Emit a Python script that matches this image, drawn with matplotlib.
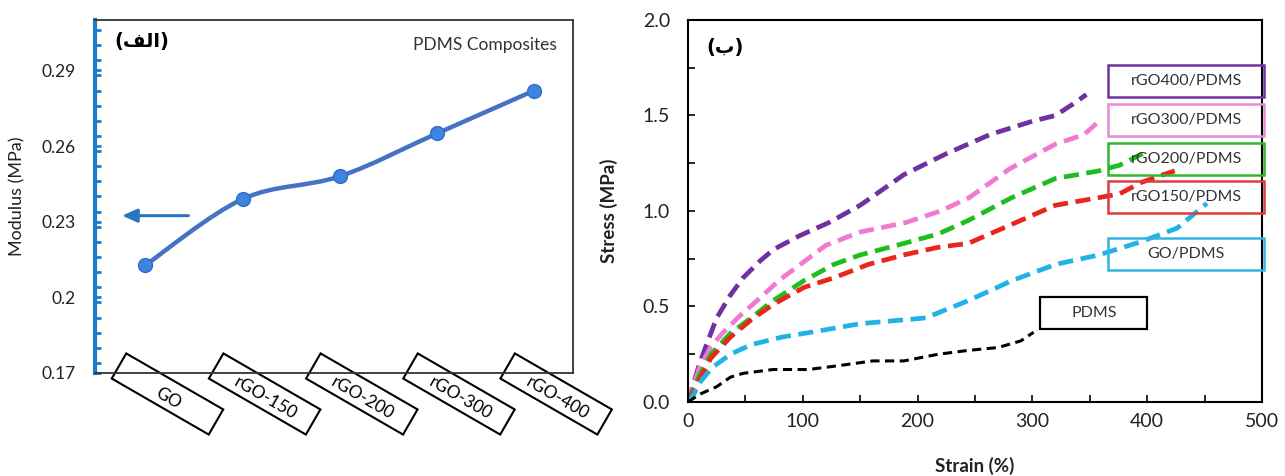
import matplotlib
matplotlib.use('Agg')
import matplotlib.pyplot as plt
import matplotlib.transforms as mtransforms
from matplotlib.patches import Rectangle, PathPatch
from matplotlib.path import Path
from matplotlib.ticker import MultipleLocator
import numpy as np

plt.rcParams['font.family'] = ['Lato', 'DejaVu Sans']

# --- left panel data: modulus of the composites
samples = ['GO', 'rGO-150', 'rGO-200', 'rGO-300', 'rGO-400']
modulus = [0.2128, 0.239, 0.248, 0.265, 0.282]

# --- right panel data: stress-strain curves
strain_pdms = [0, 10, 25, 37, 48, 74, 105, 131, 161, 188, 218, 244, 270, 290, 301]
stress_pdms = [0, 0.04, 0.08, 0.13, 0.15, 0.17, 0.17, 0.19, 0.215, 0.215, 0.25, 0.27, 0.285, 0.32, 0.365]

strain_go = [0, 5, 10, 21, 37, 55, 82, 112, 150, 207, 244, 282, 320, 358, 395, 426, 452]
stress_go = [0, 0.04, 0.1, 0.18, 0.25, 0.3, 0.34, 0.37, 0.41, 0.44, 0.53, 0.635, 0.72, 0.77, 0.84, 0.91, 1.04]

strain_150 = [0, 5, 10, 20, 37, 55, 74, 101, 127, 157, 188, 218, 244, 263, 282, 320, 358, 376, 395, 414, 424]
stress_150 = [0, 0.06, 0.12, 0.23, 0.34, 0.43, 0.51, 0.6, 0.65, 0.72, 0.77, 0.81, 0.83, 0.88, 0.93, 1.03, 1.07, 1.09, 1.15, 1.19, 1.21]

strain_200 = [0, 5, 10, 20, 37, 55, 74, 101, 127, 150, 188, 218, 244, 282, 320, 358, 376, 396]
stress_200 = [0, 0.07, 0.14, 0.25, 0.36, 0.44, 0.53, 0.635, 0.72, 0.77, 0.83, 0.88, 0.95, 1.07, 1.17, 1.21, 1.24, 1.3]

strain_300 = [0, 5, 10, 20, 30, 45, 60, 80, 100, 120, 150, 190, 220, 245, 280, 320, 345, 358]
stress_300 = [0, 0.09, 0.18, 0.29, 0.36, 0.45, 0.53, 0.64, 0.73, 0.82, 0.89, 0.94, 1.0, 1.07, 1.22, 1.35, 1.4, 1.47]

strain_400 = [0, 5, 10, 18, 25, 37, 48, 63, 75, 97, 123, 150, 188, 225, 263, 300, 320, 338, 347]
stress_400 = [0, 0.1, 0.2, 0.33, 0.44, 0.56, 0.65, 0.74, 0.8, 0.87, 0.94, 1.03, 1.19, 1.3, 1.4, 1.47, 1.5, 1.57, 1.61]

series_names = ['rGO400/PDMS', 'rGO300/PDMS', 'rGO200/PDMS', 'rGO150/PDMS', 'GO/PDMS']
series_colors = ['#7030A0', '#F07ACF', '#1DBE1D', '#E8261E', '#22B2E6']
box_colors = ['#7030A0', '#E98AD8', '#2EB82E', '#E03A3A', '#33B4E4']

fig = plt.figure(figsize=(12.85, 4.76), dpi=100)
ax1 = fig.add_axes([0.0739, 0.2164, 0.372, 0.7416])
ax2 = fig.add_axes([0.5354, 0.1555, 0.4467, 0.8025])

# ---------------- left panel ----------------
xs = np.arange(len(samples))
ys = np.array(modulus)
# smooth line (Excel style) drawn as a bezier path through the points
verts = [(xs[0], ys[0])]
codes = [Path.MOVETO]
for i in range(len(xs) - 1):
    p0 = np.array([xs[max(i - 1, 0)], ys[max(i - 1, 0)]])
    p1 = np.array([xs[i], ys[i]])
    p2 = np.array([xs[i + 1], ys[i + 1]])
    p3 = np.array([xs[min(i + 2, len(xs) - 1)], ys[min(i + 2, len(xs) - 1)]])
    c1 = p1 + (p2 - p0) / 6
    c2 = p2 - (p3 - p1) / 6
    verts += [tuple(c1), tuple(c2), tuple(p2)]
    codes += [Path.CURVE4] * 3
ax1.add_patch(PathPatch(Path(verts, codes), facecolor='none', edgecolor='#4472C4', lw=3.2, zorder=2))
ax1.plot(xs, ys, 'o', ms=10, color='#3D85E0', mec='#2F6FCB', mew=1, zorder=3)

ax1.set_xlim(-0.52, 4.4)
ax1.set_ylim(0.17, 0.31)
ax1.set_yticks([0.17, 0.2, 0.23, 0.26, 0.29])
ax1.set_yticklabels(['0.17', '0.2', '0.23', '0.26', '0.29'])
ax1.yaxis.set_minor_locator(MultipleLocator(0.006))
ax1.tick_params(axis='y', which='both', direction='in', color='#1F7BC8', width=2, length=4,
                labelsize=12.5, pad=14, labelcolor='#222222')
ax1.set_xticks([])
ax1.spines['left'].set_color('#1F7BC8')
ax1.spines['left'].set_linewidth(3)
for s in ['top', 'right', 'bottom']:
    ax1.spines[s].set_color('#333333')
    ax1.spines[s].set_linewidth(1.3)
ax1.set_ylabel('Modulus (MPa)', fontsize=13, color='#222222')
ax1.yaxis.set_label_coords(-0.145, 0.5)

ax1.annotate('', xy=(-0.27, 0.2324), xytext=(0.47, 0.2324),
             arrowprops=dict(arrowstyle='-|>,head_length=0.9,head_width=0.4', color='#2A75C0', lw=2.2))
ax1.text(0.967, 0.929, 'PDMS Composites', transform=ax1.transAxes, ha='right', va='center',
         fontsize=12.5, color='#333333')
ax1.text(0.098, 0.938, '(\uFED2\uFEDF\uFE8D)', transform=ax1.transAxes, ha='center', va='center',
         fontsize=14, fontweight='bold', family=['DejaVu Sans'])

# rotated boxed category labels
for i, lab in enumerate(samples):
    base = mtransforms.ScaledTranslation(i, 0, ax1.get_xaxis_transform())
    tr = mtransforms.Affine2D().rotate_deg(-30).translate(22, -21) + base
    ax1.add_patch(Rectangle((-56, -14.5), 112, 29, transform=tr, fill=False,
                            ec='black', lw=1.5, clip_on=False))
    ax1.annotate(lab, xy=(i, 0), xycoords=ax1.get_xaxis_transform(), xytext=(23, -25),
                 textcoords='offset pixels', rotation=-30, rotation_mode='anchor',
                 ha='center', va='center', fontsize=12.5, annotation_clip=False)

# ---------------- right panel ----------------
curves = [(strain_400, stress_400), (strain_300, stress_300), (strain_200, stress_200),
          (strain_150, stress_150), (strain_go, stress_go)]
for (sx, sy), c in zip(curves, series_colors):
    ax2.plot(sx, sy, color=c, lw=3.4, dashes=(3.2, 1.6), solid_capstyle='butt')
ax2.plot(strain_pdms, stress_pdms, color='black', lw=2.2, dashes=(3, 1.8))

ax2.set_xlim(0, 500)
ax2.set_ylim(0, 2.0)
ax2.set_xticks([0, 100, 200, 300, 400, 500])
ax2.set_yticks([0.0, 0.5, 1.0, 1.5, 2.0])
ax2.set_yticklabels(['0.0', '0.5', '1.0', '1.5', '2.0'])
ax2.xaxis.set_minor_locator(MultipleLocator(50))
ax2.yaxis.set_minor_locator(MultipleLocator(0.25))
ax2.tick_params(which='both', direction='in', length=5, width=1.2, labelsize=14, labelcolor='#222222')
ax2.tick_params(axis='y', pad=13)
ax2.tick_params(axis='x', pad=8)
for s in ax2.spines.values():
    s.set_linewidth(1.5)
ax2.set_xlabel('Strain (%)', fontsize=13.5, fontweight='bold', color='#222222')
ax2.xaxis.set_label_coords(0.5, -0.145)
ax2.set_ylabel('Stress (MPa)', fontsize=13.5, fontweight='bold', color='#222222')
ax2.yaxis.set_label_coords(-0.122, 0.5)
ax2.text(0.065, 0.929, '(\uFE8F)', transform=ax2.transAxes, ha='center', va='center',
         fontsize=14, fontweight='bold', family=['DejaVu Sans'])

# legend-like boxes
box_y = [1.68, 1.476, 1.272, 1.073, 0.775]
for name, by, bc in zip(series_names, box_y, box_colors):
    ax2.add_patch(Rectangle((366, by - 0.082), 136, 0.164, fill=False, ec=bc, lw=1.8,
                            clip_on=False, zorder=4))
    ax2.text(434, by, name, ha='center', va='center', fontsize=11.5, color='#333333', zorder=5)
ax2.add_patch(Rectangle((307, 0.38), 93, 0.172, fill=False, ec='black', lw=1.6, zorder=4))
ax2.text(353.5, 0.466, 'PDMS', ha='center', va='center', fontsize=11.5, color='#333333', zorder=5)

fig.savefig('out.png', dpi=100)
